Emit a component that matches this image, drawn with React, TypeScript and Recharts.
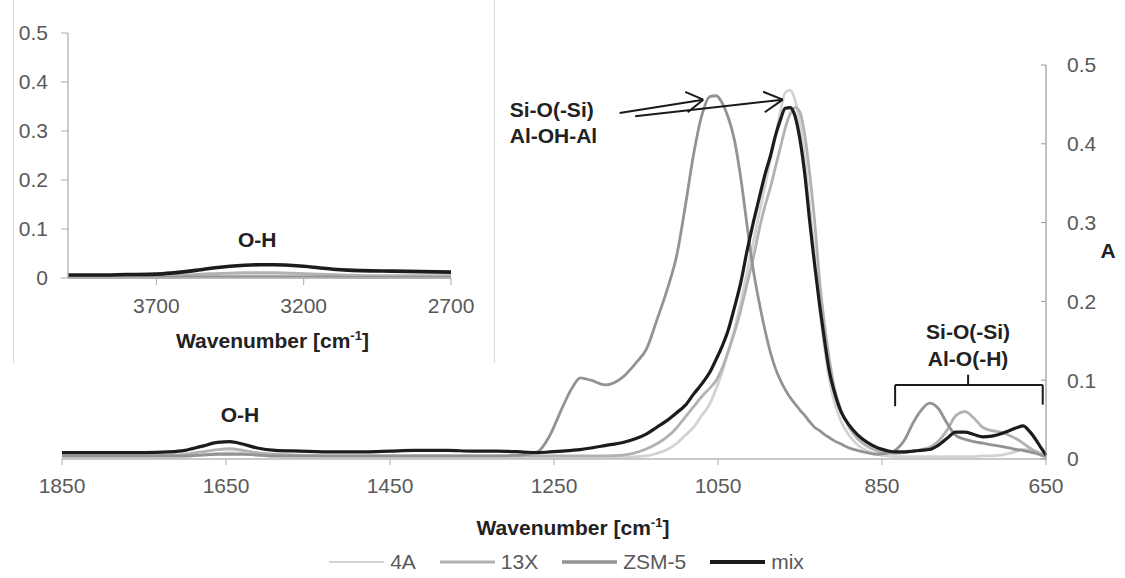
import React from "react";
import { LineChart, Line, XAxis, YAxis, Legend, ReferenceLine, ReferenceDot } from "recharts";

const FONT = '"Liberation Sans", Arial, Helvetica, sans-serif';
const TICK_COLOR = "#595959";

// main spectrum, 1850-650 cm-1
const wavenumbers = [
    1850, 1800, 1750, 1720, 1700, 1680, 1660, 1645, 1630, 1612, 1590, 1560, 1520, 1480, 1450, 1420, 1400, 1380, 1350, 1320,
    1290, 1270, 1255, 1240, 1228, 1218, 1205, 1188, 1166, 1150, 1137, 1125, 1112, 1100, 1090, 1080, 1070, 1060, 1052, 1045,
    1038, 1030, 1022, 1015, 1007, 1000, 993, 986, 980, 974, 968, 962, 956, 950, 944, 938, 932, 926, 920, 914,
    908, 900, 890, 880, 868, 855, 845, 834, 822, 812, 802, 792, 782, 771, 760, 749, 738, 727, 716, 705,
    695, 685, 678, 670, 662, 656, 650,
];
const abs4A = [
    0.002, 0.002, 0.002, 0.002, 0.003, 0.005, 0.007, 0.008, 0.007, 0.005, 0.003, 0.002, 0.002, 0.002, 0.002, 0.002, 0.002, 0.002, 0.002, 0.002,
    0.002, 0.002, 0.002, 0.002, 0.002, 0.002, 0.002, 0.002, 0.002, 0.003, 0.004, 0.007, 0.012, 0.02, 0.03, 0.04, 0.055, 0.07, 0.09, 0.11,
    0.135, 0.165, 0.2, 0.235, 0.275, 0.31, 0.345, 0.38, 0.41, 0.44, 0.465, 0.468, 0.455, 0.425, 0.38, 0.32, 0.255, 0.19, 0.14, 0.1,
    0.072, 0.048, 0.03, 0.018, 0.01, 0.006, 0.004, 0.003, 0.003, 0.003, 0.003, 0.003, 0.003, 0.003, 0.003, 0.003, 0.003, 0.004, 0.004, 0.005,
    0.007, 0.01, 0.012, 0.012, 0.01, 0.007, 0.004,
];
const abs13X = [
    0.004, 0.004, 0.004, 0.005, 0.006, 0.009, 0.012, 0.013, 0.011, 0.008, 0.006, 0.005, 0.004, 0.004, 0.004, 0.004, 0.004, 0.004, 0.004, 0.004,
    0.004, 0.004, 0.004, 0.004, 0.004, 0.004, 0.004, 0.004, 0.005, 0.008, 0.013, 0.019, 0.028, 0.04, 0.053, 0.066, 0.079, 0.09, 0.1, 0.115,
    0.135, 0.16, 0.19, 0.22, 0.255, 0.29, 0.32, 0.345, 0.37, 0.395, 0.42, 0.438, 0.446, 0.44, 0.41, 0.36, 0.3, 0.225, 0.17, 0.125,
    0.09, 0.062, 0.04, 0.026, 0.016, 0.01, 0.008, 0.007, 0.008, 0.01, 0.012, 0.015, 0.022, 0.036, 0.055, 0.06, 0.052, 0.04, 0.036, 0.034,
    0.03, 0.025, 0.02, 0.014, 0.009, 0.006, 0.004,
];
const absZSM5 = [
    0.004, 0.004, 0.004, 0.004, 0.004, 0.005, 0.006, 0.006, 0.006, 0.005, 0.004, 0.004, 0.004, 0.004, 0.004, 0.004, 0.004, 0.004, 0.004, 0.004,
    0.005, 0.009, 0.03, 0.065, 0.09, 0.103, 0.1, 0.094, 0.104, 0.122, 0.14, 0.175, 0.215, 0.26, 0.32, 0.385, 0.435, 0.46, 0.461, 0.452,
    0.435, 0.405, 0.355, 0.3, 0.24, 0.2, 0.165, 0.135, 0.115, 0.1, 0.088, 0.078, 0.07, 0.062, 0.055, 0.047, 0.04, 0.036, 0.031, 0.027,
    0.023, 0.019, 0.014, 0.011, 0.008, 0.006, 0.007, 0.011, 0.025, 0.046, 0.062, 0.071, 0.065, 0.046, 0.03, 0.025, 0.022, 0.02, 0.018, 0.016,
    0.014, 0.012, 0.011, 0.009, 0.007, 0.005, 0.003,
];
const absMix = [
    0.008, 0.008, 0.008, 0.009, 0.011, 0.016, 0.021, 0.022, 0.019, 0.014, 0.011, 0.01, 0.009, 0.009, 0.01, 0.011, 0.011, 0.011, 0.01, 0.01,
    0.009, 0.008, 0.009, 0.01, 0.011, 0.012, 0.014, 0.017, 0.021, 0.026, 0.032, 0.04, 0.049, 0.059, 0.068, 0.082, 0.095, 0.11, 0.127, 0.143,
    0.162, 0.192, 0.225, 0.262, 0.3, 0.33, 0.36, 0.385, 0.41, 0.43, 0.445, 0.446, 0.435, 0.405, 0.36, 0.3, 0.245, 0.195, 0.15, 0.11,
    0.085, 0.06, 0.043, 0.031, 0.021, 0.014, 0.011, 0.009, 0.009, 0.01, 0.011, 0.012, 0.017, 0.026, 0.034, 0.034, 0.031, 0.028, 0.029, 0.032,
    0.036, 0.04, 0.042, 0.035, 0.024, 0.014, 0.005,
];

// inset, 4000-2700 cm-1
const insetWavenumbers = [4000, 3900, 3800, 3700, 3650, 3600, 3550, 3500, 3450, 3400, 3350, 3300, 3250, 3200, 3150, 3100, 3050, 3000, 2900, 2800, 2700];
const inset4A = [0.002, 0.002, 0.002, 0.003, 0.003, 0.004, 0.005, 0.006, 0.007, 0.007, 0.007, 0.007, 0.006, 0.005, 0.004, 0.004, 0.003, 0.003, 0.003, 0.003, 0.003];
const inset13X = [0.003, 0.003, 0.003, 0.004, 0.005, 0.006, 0.008, 0.009, 0.01, 0.011, 0.011, 0.011, 0.01, 0.009, 0.008, 0.007, 0.006, 0.005, 0.005, 0.005, 0.005];
const insetZSM5 = [0.001, 0.001, 0.001, 0.001, 0.001, 0.002, 0.002, 0.002, 0.002, 0.002, 0.002, 0.002, 0.002, 0.002, 0.002, 0.002, 0.001, 0.001, 0.001, 0.001, 0.001];
const insetMix = [0.006, 0.006, 0.007, 0.008, 0.01, 0.013, 0.017, 0.021, 0.024, 0.026, 0.027, 0.027, 0.026, 0.024, 0.021, 0.018, 0.016, 0.015, 0.014, 0.013, 0.012];

const mainTicks = [1850, 1650, 1450, 1250, 1050, 850, 650];
const insetTicks = [3700, 3200, 2700];
const absTicks = [0, 0.1, 0.2, 0.3, 0.4, 0.5];

const series = [
    { key: "a4A", name: "4A", color: "#d3d3d3", width: 2.8, legendWidth: 2 },
    { key: "a13X", name: "13X", color: "#b2b2b2", width: 2.8, legendWidth: 2.8 },
    { key: "zsm5", name: "ZSM-5", color: "#939393", width: 2.8, legendWidth: 3.4 },
    { key: "mix", name: "mix", color: "#1c1c1c", width: 3.2, legendWidth: 4.2 },
];

const mainData = wavenumbers.map((wn, i) => ({ wn, a4A: abs4A[i], a13X: abs13X[i], zsm5: absZSM5[i], mix: absMix[i] }));
const insetData = insetWavenumbers.map((wn, i) => ({ wn, a4A: inset4A[i], a13X: inset13X[i], zsm5: insetZSM5[i], mix: insetMix[i] }));

const tickStyle = { fill: TICK_COLOR, fontSize: 21, fontFamily: FONT };

function RightTick({ x, y, payload }: any) {
    // ticks on the right axis point into the plot
    const axisX = x - 21;
    return (
        <g>
            <line x1={axisX - 5} x2={axisX} y1={y} y2={y} stroke="#999" />
            <text x={x} y={y} dy="0.355em" textAnchor="start" {...tickStyle}>
                {payload.value}
            </text>
        </g>
    );
}

function wavenumberTitle(dx: number, dy: number) {
    return (p: any) => {
        const vb = p.viewBox;
        return (
            <text x={vb.x + vb.width / 2 + dx} y={vb.y + dy} textAnchor="middle" fontFamily={FONT} fontSize={21} fontWeight="bold" fill="#222">
                Wavenumber [cm<tspan dy={-8} fontSize={13}>-1</tspan>
                <tspan dy={8}>]</tspan>
            </text>
        );
    };
}

function note(text: string, anchor: string = "middle") {
    return (p: any) => (
        <text x={p.cx} y={p.cy} dy="0.36em" textAnchor={anchor} fontFamily={FONT} fontSize={21} fontWeight="bold" fill="#222">
            {text}
        </text>
    );
}

function LegendRow({ payload }: any) {
    // keep the series order, not the alphabetical one
    const items = [...(payload || [])].sort(
        (a: any, b: any) => series.findIndex((s) => s.name === a.value) - series.findIndex((s) => s.name === b.value)
    );
    return (
        <div style={{ display: "flex", justifyContent: "center", alignItems: "center", fontFamily: FONT, fontSize: 21, color: TICK_COLOR, paddingLeft: 8 }}>
            {items.map((entry: any, i: number) => {
                const s = series.find((d) => d.name === entry.value);
                return (
                    <div key={entry.value} style={{ display: "flex", alignItems: "center", marginLeft: i ? 24 : 0 }}>
                        <svg width={55} height={12}>
                            <line x1={0} x2={55} y1={6} y2={6} stroke={entry.color} strokeWidth={s ? s.legendWidth : 3} />
                        </svg>
                        <span style={{ marginLeft: 6 }}>{entry.value}</span>
                    </div>
                );
            })}
        </div>
    );
}

const pen = { stroke: "#1a1a1a", strokeWidth: 2 };

export default function App() {
    return (
        <div style={{ position: "absolute", left: 0, top: 0, width: 1125, height: 578, background: "#fff" }}>
            <LineChart width={1125} height={578} data={mainData} margin={{ top: 65, right: 0, bottom: 0, left: 62 }}>
                <XAxis
                    dataKey="wn"
                    type="number"
                    domain={[650, 1850]}
                    reversed
                    ticks={mainTicks}
                    interval={0}
                    height={119}
                    tick={tickStyle}
                    tickSize={6}
                    tickMargin={13}
                    axisLine={{ stroke: "#b8b8b8", strokeWidth: 1.5 }}
                    tickLine={{ stroke: "#aaa" }}
                    label={wavenumberTitle(19, 76)}
                />
                <YAxis
                    orientation="right"
                    width={79}
                    domain={[0, 0.5]}
                    ticks={absTicks}
                    interval={0}
                    tickSize={0}
                    tickMargin={21}
                    tickLine={false}
                    tick={<RightTick />}
                    axisLine={{ stroke: "#999", strokeWidth: 1.2 }}
                    label={(p: any) => (
                        <text x={p.viewBox.x + 62} y={p.viewBox.y + p.viewBox.height / 2 - 12} dy="0.36em" textAnchor="middle" fontFamily={FONT} fontSize={21} fontWeight="bold" fill="#222">
                            A
                        </text>
                    )}
                />
                <Legend layout="horizontal" verticalAlign="middle" align="center" content={<LegendRow />} wrapperStyle={{ top: 550, left: 0, width: 1125, height: 24 }} />
                {series.map((s) => (
                    <Line
                        key={s.key}
                        dataKey={s.key}
                        name={s.name}
                        type="monotone"
                        stroke={s.color}
                        strokeWidth={s.width}
                        dot={false}
                        legendType="plainline"
                        isAnimationActive={false}
                    />
                ))}

                {/* arrows to the Si-O(-Si) / Al-OH-Al maxima */}
                <ReferenceLine segment={[{ x: 1170, y: 0.439 }, { x: 1068, y: 0.456 }]} {...pen} />
                <ReferenceLine segment={[{ x: 1090, y: 0.466 }, { x: 1068, y: 0.456 }]} {...pen} />
                <ReferenceLine segment={[{ x: 1087, y: 0.44 }, { x: 1068, y: 0.456 }]} {...pen} />
                <ReferenceLine segment={[{ x: 1151, y: 0.435 }, { x: 971, y: 0.456 }]} {...pen} />
                <ReferenceLine segment={[{ x: 995, y: 0.466 }, { x: 971, y: 0.456 }]} {...pen} />
                <ReferenceLine segment={[{ x: 993, y: 0.44 }, { x: 971, y: 0.456 }]} {...pen} />

                {/* bracket over the 850-650 bands */}
                <ReferenceLine segment={[{ x: 834, y: 0.094 }, { x: 654, y: 0.094 }]} {...pen} />
                <ReferenceLine segment={[{ x: 834, y: 0.094 }, { x: 834, y: 0.067 }]} {...pen} />
                <ReferenceLine segment={[{ x: 654, y: 0.094 }, { x: 654, y: 0.069 }]} {...pen} />
                <ReferenceLine segment={[{ x: 745, y: 0.094 }, { x: 745, y: 0.107 }]} {...pen} />

                <ReferenceDot x={1633} y={0.057} r={0} shape={note("O-H")} />
                <ReferenceDot x={1304} y={0.443} r={0} shape={note("Si-O(-Si)", "start")} />
                <ReferenceDot x={1304} y={0.411} r={0} shape={note("Al-OH-Al", "start")} />
                <ReferenceDot x={745} y={0.162} r={0} shape={note("Si-O(-Si)")} />
                <ReferenceDot x={745} y={0.128} r={0} shape={note("Al-O(-H)")} />
            </LineChart>

            <div
                style={{
                    position: "absolute",
                    left: 13,
                    top: 0,
                    width: 480,
                    height: 363,
                    background: "#fff",
                    borderLeft: "1px solid #d9d9d9",
                    borderRight: "1px solid #d9d9d9",
                }}
            >
                <LineChart width={480} height={365} data={insetData} margin={{ top: 33, right: 43, bottom: 0, left: 0 }}>
                    <XAxis
                        dataKey="wn"
                        type="number"
                        domain={[2700, 4000]}
                        reversed
                        ticks={insetTicks}
                        interval={0}
                        height={87}
                        tick={tickStyle}
                        tickSize={7}
                        tickMargin={13}
                        axisLine={{ stroke: "#b8b8b8", strokeWidth: 1.5 }}
                        tickLine={{ stroke: "#aaa" }}
                        label={wavenumberTitle(13, 70)}
                    />
                    <YAxis
                        width={54}
                        domain={[0, 0.5]}
                        ticks={absTicks}
                        interval={0}
                        tick={tickStyle}
                        tickSize={7}
                        tickMargin={13}
                        axisLine={{ stroke: "#aaa", strokeWidth: 1.2 }}
                        tickLine={{ stroke: "#aaa" }}
                    />
                    {series.map((s) => (
                        <Line
                            key={s.key}
                            dataKey={s.key}
                            name={s.name}
                            type="monotone"
                            stroke={s.color}
                            strokeWidth={s.key === "mix" ? 3.6 : s.width}
                            dot={false}
                            isAnimationActive={false}
                        />
                    ))}
                    <ReferenceDot x={3358} y={0.078} r={0} shape={note("O-H")} />
                </LineChart>
            </div>
        </div>
    );
}
